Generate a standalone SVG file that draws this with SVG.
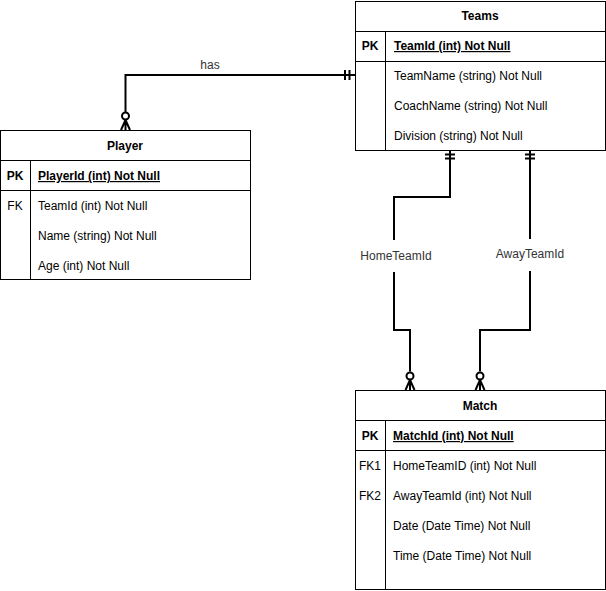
<svg xmlns="http://www.w3.org/2000/svg" width="606" height="591" viewBox="0 0 606 591">
<style>
  .box{fill:#fff;stroke:#000;stroke-width:1}
  .ln{fill:none;stroke:#000;stroke-width:1}
  .cn{fill:none;stroke:#000;stroke-width:2}
  text{font-family:"Liberation Sans",Arial,Helvetica,sans-serif;font-size:12px;fill:#000}
  .hd{font-weight:bold;text-anchor:middle}
  .key{font-weight:bold;text-anchor:middle}
  .pk{font-weight:bold;text-decoration:underline}
  .fk{text-anchor:middle}
  .lbl{fill:#333;text-anchor:middle}
</style>
<defs>
  <g id="zeroMany">
    <circle cx="0" cy="-14" r="3.5" fill="#fff" stroke="#000" stroke-width="2"/>
    <path d="M0,-10.5 V0 M0,-10 L-4.5,0 M0,-10 L4.5,0" fill="none" stroke="#000" stroke-width="2"/>
  </g>
</defs>
<rect width="606" height="591" fill="#fff"/>

<g id="connectors">
  <!-- Teams to Player: has -->
  <path class="cn" d="M355,75 H125.5 V112.5"/>
  <path class="cn" d="M345,70 V80 M349.5,70 V80"/>
  <use href="#zeroMany" x="125.5" y="130"/>
  <text class="lbl" x="210" y="69">has</text>

  <!-- HomeTeamId -->
  <path class="cn" d="M450,151 V197 H394 V240"/>
  <path class="cn" d="M394,272 V330 H410 V371.5"/>
  <path class="cn" d="M445,154.5 H455 M445,158.5 H455"/>
  <use href="#zeroMany" x="410" y="390"/>
  <text class="lbl" x="396" y="260">HomeTeamId</text>

  <!-- AwayTeamId -->
  <path class="cn" d="M530,151 V239"/>
  <path class="cn" d="M530,271 V330 H480 V371.5"/>
  <path class="cn" d="M525,154.5 H535 M525,158.5 H535"/>
  <use href="#zeroMany" x="480" y="390"/>
  <text class="lbl" x="530" y="258">AwayTeamId</text>
</g>

<g id="teams">
  <rect class="box" x="355.5" y="1.5" width="250" height="149"/>
  <path class="ln" d="M355.5,31.5 H605.5 M355.5,61.5 H605.5 M385.5,31.5 V150.5"/>
  <text class="hd" x="480" y="20">Teams</text>
  <text class="key" x="370" y="50">PK</text>
  <text class="pk" x="394" y="50">TeamId (int) Not Null</text>
  <text x="394" y="80">TeamName (string) Not Null</text>
  <text x="394" y="110">CoachName (string) Not Null</text>
  <text x="394" y="140">Division (string) Not Null</text>
</g>

<g id="player">
  <rect class="box" x="0.5" y="130.5" width="250" height="149"/>
  <path class="ln" d="M0.5,160.5 H250.5 M0.5,190.5 H250.5 M30.5,160.5 V279.5"/>
  <text class="hd" x="125" y="150">Player</text>
  <text class="key" x="15" y="180">PK</text>
  <text class="pk" x="38" y="180">PlayerId (int) Not Null</text>
  <text class="fk" x="15" y="210">FK</text>
  <text x="38" y="210">TeamId (int) Not Null</text>
  <text x="38" y="240">Name (string) Not Null</text>
  <text x="38" y="270">Age (int) Not Null</text>
</g>

<g id="match">
  <rect class="box" x="355.5" y="390.5" width="250" height="199"/>
  <path class="ln" d="M355.5,420.5 H605.5 M355.5,450.5 H605.5 M385.5,420.5 V589.5"/>
  <text class="hd" x="480" y="410">Match</text>
  <text class="key" x="370" y="440">PK</text>
  <text class="pk" x="393" y="440">MatchId (int) Not Null</text>
  <text class="fk" x="370" y="470">FK1</text>
  <text x="393" y="470">HomeTeamID (int) Not Null</text>
  <text class="fk" x="370" y="500">FK2</text>
  <text x="393" y="500">AwayTeamId (int) Not Null</text>
  <text x="393" y="530">Date (Date Time) Not Null</text>
  <text x="393" y="560">Time (Date Time) Not Null</text>
</g>
</svg>
